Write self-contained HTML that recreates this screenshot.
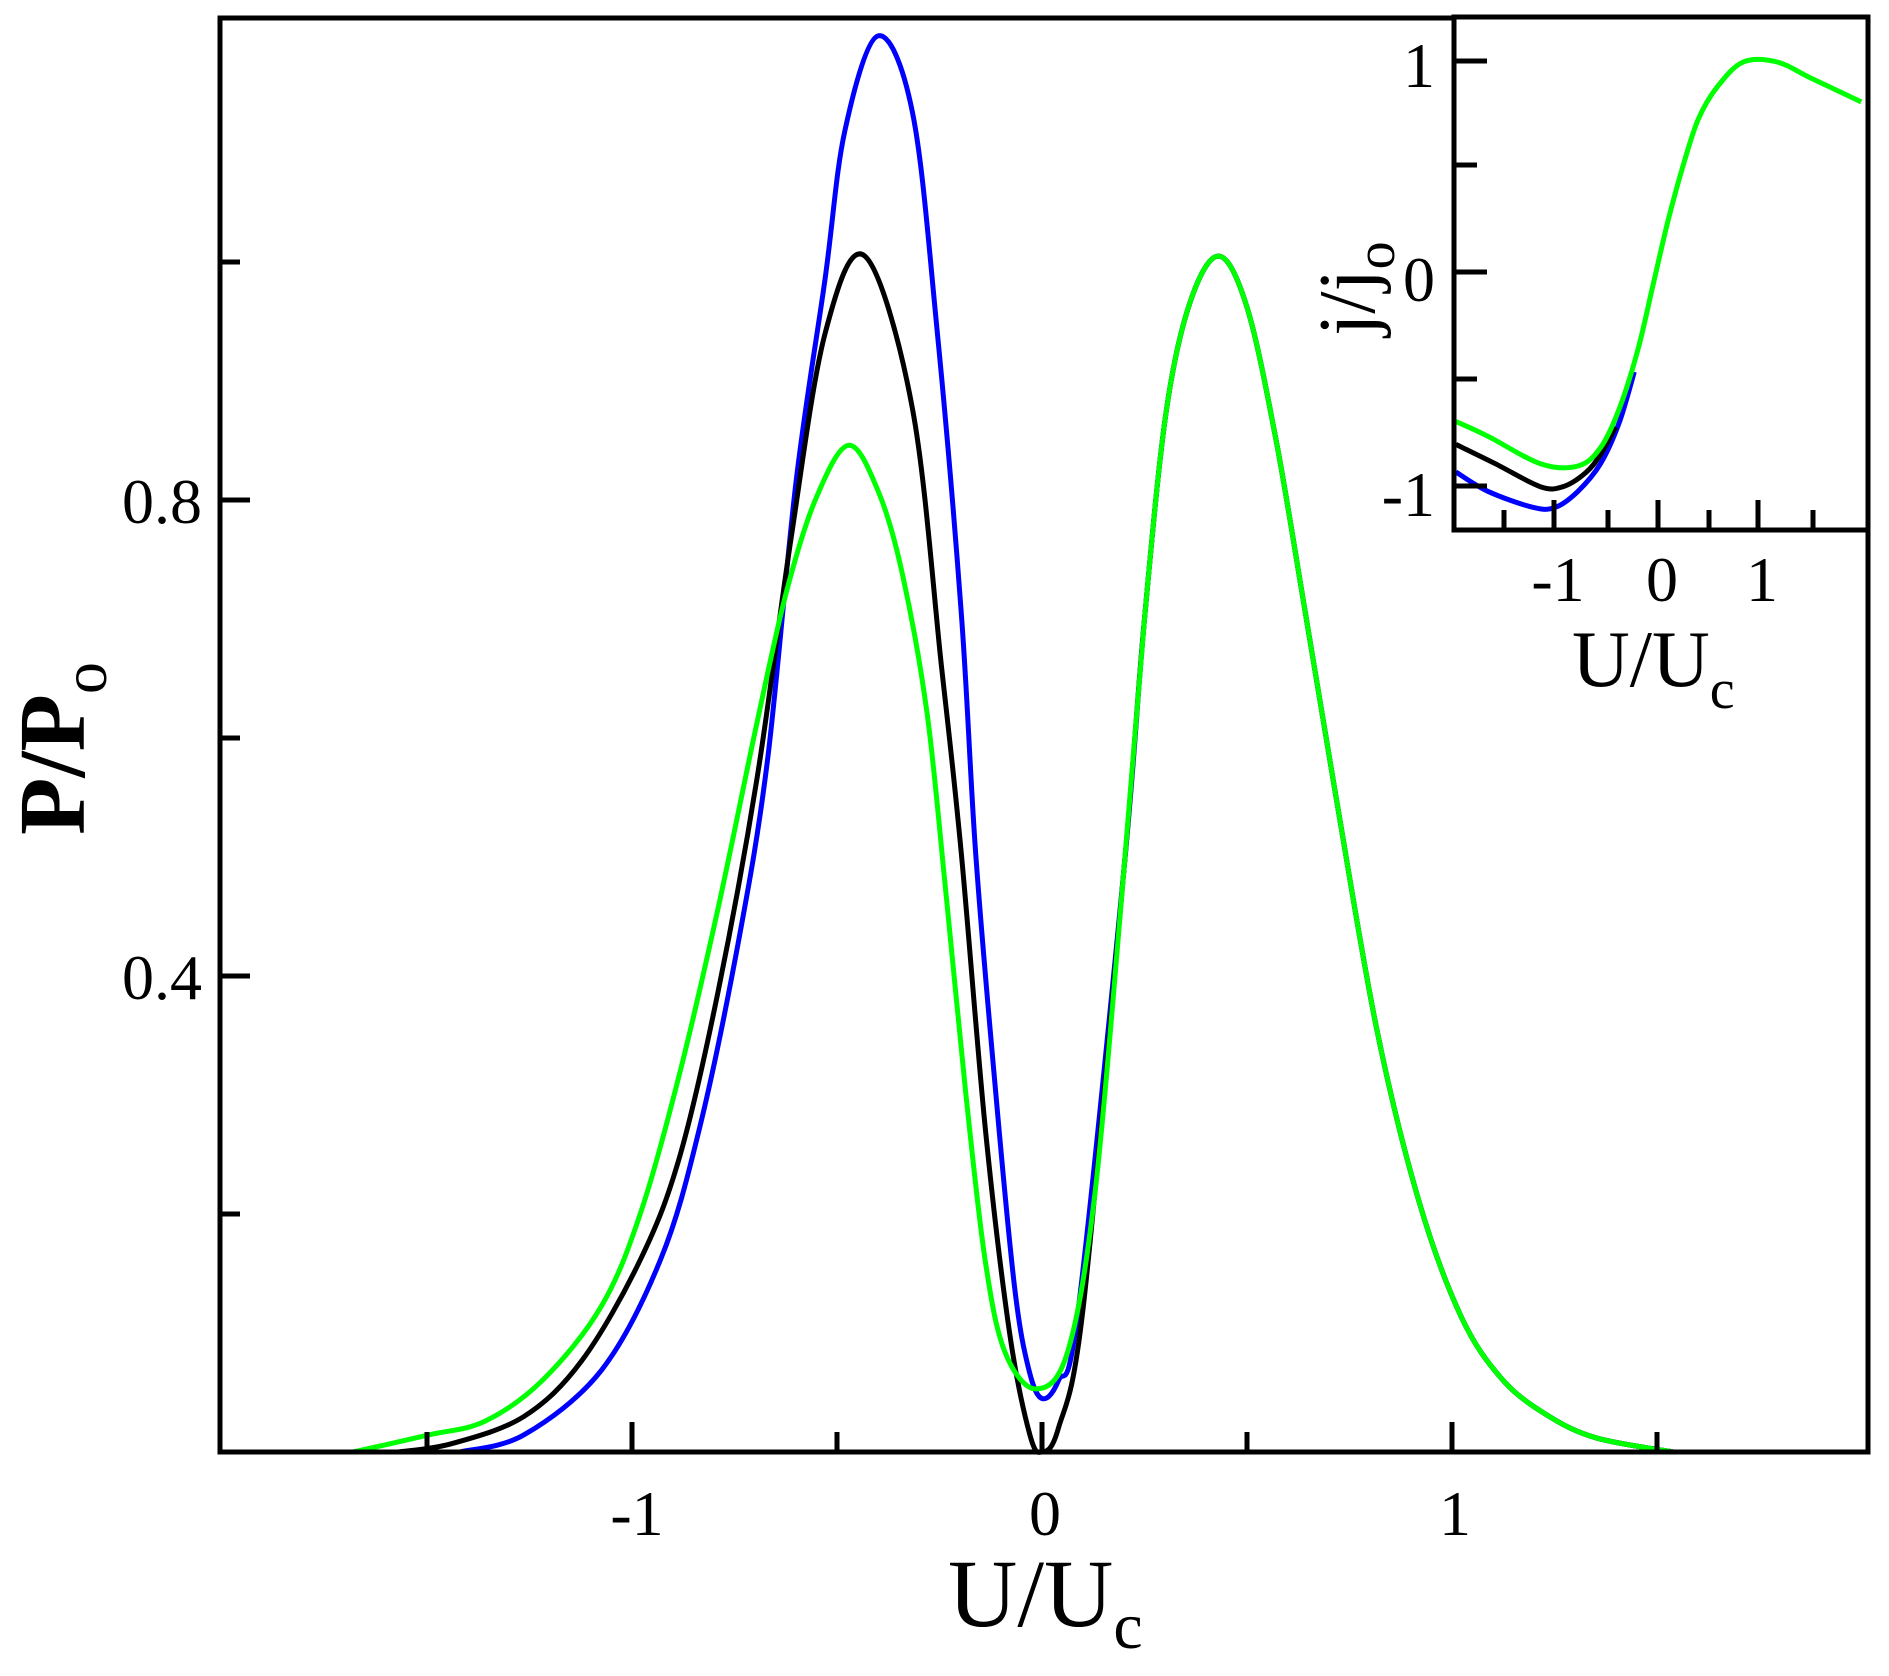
<!DOCTYPE html>
<html><head><meta charset="utf-8"><style>
html,body{margin:0;padding:0;background:#fff;}
svg{display:block;}
text{font-family:"Liberation Serif",serif;fill:#000;}
</style></head><body>
<svg id="s" width="1889" height="1676" viewBox="0 0 1889 1676" xmlns="http://www.w3.org/2000/svg">
<rect width="1889" height="1676" fill="#fff"/>
<g id="main"></g>
<rect x="220" y="18" width="1648" height="1434" fill="none" stroke="#000" stroke-width="5"/>
<g stroke="#000" stroke-width="5">
<line x1="427" y1="1452" x2="427" y2="1432"/>
<line x1="632" y1="1452" x2="632" y2="1422"/>
<line x1="837" y1="1452" x2="837" y2="1432"/>
<line x1="1042" y1="1452" x2="1042" y2="1422"/>
<line x1="1247" y1="1452" x2="1247" y2="1432"/>
<line x1="1452" y1="1452" x2="1452" y2="1422"/>
<line x1="1657" y1="1452" x2="1657" y2="1432"/>
<line x1="220" y1="1214" x2="240" y2="1214"/>
<line x1="220" y1="976" x2="250" y2="976"/>
<line x1="220" y1="738" x2="240" y2="738"/>
<line x1="220" y1="500" x2="250" y2="500"/>
<line x1="220" y1="262" x2="240" y2="262"/>
</g>
<g font-size="64">
<text x="202" y="999" text-anchor="end">0.4</text>
<text x="202" y="523" text-anchor="end">0.8</text>
<text x="637" y="1535" text-anchor="middle">-1</text>
<text x="1045" y="1535" text-anchor="middle">0</text>
<text x="1455" y="1535" text-anchor="middle">1</text>
</g>
<text x="948" y="1626" font-size="96">U/U<tspan font-size="66" dy="22">c</tspan></text>
<text transform="translate(84,835) rotate(-90)" font-size="94" font-weight="bold">P/P<tspan font-size="64" dy="22" font-weight="normal">o</tspan></text>
<!-- inset -->
<rect x="1454" y="17" width="414" height="513" fill="#fff"/>
<g id="inset"></g>
<rect x="1454" y="17" width="414" height="513" fill="none" stroke="#000" stroke-width="5"/>
<g stroke="#000" stroke-width="5">
<line x1="1504" y1="530" x2="1504" y2="510"/>
<line x1="1554" y1="530" x2="1554" y2="500"/>
<line x1="1608" y1="530" x2="1608" y2="510"/>
<line x1="1658" y1="530" x2="1658" y2="500"/>
<line x1="1709" y1="530" x2="1709" y2="510"/>
<line x1="1758" y1="530" x2="1758" y2="500"/>
<line x1="1813" y1="530" x2="1813" y2="510"/>
<line x1="1454" y1="61" x2="1487" y2="61"/>
<line x1="1454" y1="165" x2="1477" y2="165"/>
<line x1="1454" y1="272" x2="1487" y2="272"/>
<line x1="1454" y1="379" x2="1477" y2="379"/>
<line x1="1454" y1="486" x2="1487" y2="486"/>
</g>
<g font-size="64">
<text x="1435" y="87" text-anchor="end">1</text>
<text x="1435" y="301" text-anchor="end">0</text>
<text x="1435" y="516" text-anchor="end">-1</text>
<text x="1558" y="601" text-anchor="middle">-1</text>
<text x="1662" y="601" text-anchor="middle">0</text>
<text x="1762" y="601" text-anchor="middle">1</text>
</g>
<text x="1572" y="686" font-size="80">U/U<tspan font-size="56" dy="22">c</tspan></text>
<text transform="translate(1374,336) rotate(-90)" font-size="80">j/j<tspan font-size="56" dy="20">o</tspan></text>
</svg>
<script>
function cr(pts){var d="M"+pts[0][0].toFixed(1)+","+pts[0][1].toFixed(1);
for(var i=0;i<pts.length-1;i++){var p0=pts[i-1]||pts[i],p1=pts[i],p2=pts[i+1],p3=pts[i+2]||p2;
var c1=[p1[0]+(p2[0]-p0[0])/6,p1[1]+(p2[1]-p0[1])/6],c2=[p2[0]-(p3[0]-p1[0])/6,p2[1]-(p3[1]-p1[1])/6];
d+=" C"+c1[0].toFixed(1)+","+c1[1].toFixed(1)+" "+c2[0].toFixed(1)+","+c2[1].toFixed(1)+" "+p2[0].toFixed(1)+","+p2[1].toFixed(1);}return d;}
function M(a){return a.map(function(p){return [1042+410*p[0],1452-1190*p[1]];});}
var right=[[0.2,0.49],[0.25,0.70],[0.302,0.872],[0.36,0.965],[0.431,1.005],[0.5,0.962],[0.57,0.852],[0.64,0.71],[0.714,0.557],[0.816,0.356],[0.92,0.21],[1.022,0.114],[1.12,0.062],[1.227,0.032],[1.35,0.012],[1.54,0.0]];
var black=[[-1.57,0],[-1.44,0.007],[-1.263,0.03],[-1.122,0.077],[-0.979,0.162],[-0.884,0.248],[-0.79,0.387],[-0.695,0.566],[-0.612,0.768],[-0.529,0.94],[-0.432,1.005],[-0.316,0.877],[-0.245,0.66],[-0.197,0.504],[-0.138,0.271],[-0.079,0.10],[-0.03,0.015],[0,0],[0.04,0.02],[0.1,0.12]].concat(right);
var blue=[[-1.42,0],[-1.263,0.0145],[-1.074,0.069],[-0.93,0.162],[-0.836,0.271],[-0.742,0.426],[-0.67,0.58],[-0.60,0.815],[-0.529,0.986],[-0.481,1.11],[-0.40,1.19],[-0.316,1.126],[-0.257,0.947],[-0.197,0.706],[-0.162,0.504],[-0.115,0.31],[-0.067,0.139],[-0.032,0.069],[0,0.045],[0.04,0.06],[0.087,0.116]].concat(right);
var green=[[-1.68,0.0],[-1.5,0.014],[-1.358,0.026],[-1.216,0.061],[-1.074,0.123],[-0.979,0.201],[-0.884,0.318],[-0.79,0.457],[-0.695,0.613],[-0.624,0.722],[-0.553,0.80],[-0.472,0.846],[-0.399,0.807],[-0.34,0.737],[-0.28,0.62],[-0.233,0.465],[-0.186,0.302],[-0.139,0.162],[-0.091,0.0845],[-0.015,0.053],[0.063,0.0845],[0.13,0.22]].concat(right);
var g=document.getElementById("main");
[["#0000ff",blue],["#000000",black],["#00ff00",green]].forEach(function(c){
var p=document.createElementNS("http://www.w3.org/2000/svg","path");p.setAttribute("d",cr(M(c[1])));
p.setAttribute("fill","none");p.setAttribute("stroke",c[0]);p.setAttribute("stroke-width","5");g.appendChild(p);});
function I(a){return a.map(function(p){return [1300+p[0]/2.662,p[1]/2.178];});}
var gi=[[415,918],[500,950],[640,1010],[740,1015],[800,975],[850,890],[900,760],[940,620],[980,480],[1020,360],[1060,260],[1110,190],[1180,135],[1270,135],[1360,170],[1494,222]];
var bk=[[415,968],[520,1010],[640,1060],[700,1060],[760,1030],[800,990],[840,930]];
var bl=[[415,1028],[500,1070],[620,1105],[680,1105],[740,1070],[800,1010],[850,920],[890,810]];
var gg=document.getElementById("inset");
[["#0000ff",bl],["#000000",bk],["#00ff00",gi]].forEach(function(c){
var p=document.createElementNS("http://www.w3.org/2000/svg","path");p.setAttribute("d",cr(I(c[1])));
p.setAttribute("fill","none");p.setAttribute("stroke",c[0]);p.setAttribute("stroke-width","5");gg.appendChild(p);});
</script>
</body></html>
